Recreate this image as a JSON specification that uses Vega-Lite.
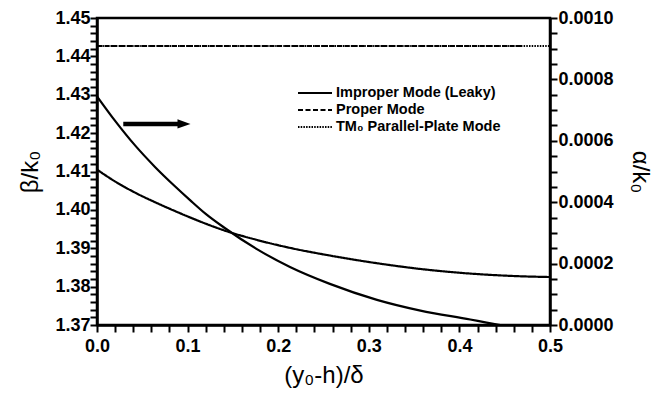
{
  "$schema": "https://vega.github.io/schema/vega-lite/v6.json",
  "width": 453,
  "height": 307,
  "autosize": "none",
  "padding": {"left": 97, "top": 18, "right": 108, "bottom": 72},
  "background": "white",
  "config": {
    "view": {"stroke": "black", "strokeWidth": 2.5},
    "axis": {
      "labelFont": "Liberation Sans", "labelFontWeight": "bold", "labelFontSize": 18, "labelColor": "black",
      "titleFont": "Liberation Sans", "titleFontWeight": "normal", "titleFontSize": 24, "titleColor": "black",
      "domainColor": "black", "domainWidth": 2.5,
      "labelOverlap": false, "labelFlush": false
    },
    "legend": {
      "labelFont": "Liberation Sans", "labelFontWeight": "bold", "labelFontSize": 14.5, "labelColor": "black", "labelLimit": 0
    }
  },
  "datasets": {
    "betaCurve": [
      {"x": 0, "beta": 1.4105, "mode": "Improper Mode (Leaky)"},
      {"x": 0.02, "beta": 1.4074, "mode": "Improper Mode (Leaky)"},
      {"x": 0.042, "beta": 1.4045, "mode": "Improper Mode (Leaky)"},
      {"x": 0.064, "beta": 1.402, "mode": "Improper Mode (Leaky)"},
      {"x": 0.086, "beta": 1.3997, "mode": "Improper Mode (Leaky)"},
      {"x": 0.103, "beta": 1.398, "mode": "Improper Mode (Leaky)"},
      {"x": 0.12, "beta": 1.3964, "mode": "Improper Mode (Leaky)"},
      {"x": 0.141, "beta": 1.3946, "mode": "Improper Mode (Leaky)"},
      {"x": 0.176, "beta": 1.3922, "mode": "Improper Mode (Leaky)"},
      {"x": 0.213, "beta": 1.3901, "mode": "Improper Mode (Leaky)"},
      {"x": 0.257, "beta": 1.3881, "mode": "Improper Mode (Leaky)"},
      {"x": 0.309, "beta": 1.3861, "mode": "Improper Mode (Leaky)"},
      {"x": 0.357, "beta": 1.3846, "mode": "Improper Mode (Leaky)"},
      {"x": 0.412, "beta": 1.3834, "mode": "Improper Mode (Leaky)"},
      {"x": 0.467, "beta": 1.3827, "mode": "Improper Mode (Leaky)"},
      {"x": 0.5, "beta": 1.3825, "mode": "Improper Mode (Leaky)"}
    ],
    "flatLines": [
      {"x": 0, "beta": 1.4427, "mode": "TM₀ Parallel-Plate Mode"},
      {"x": 0.5, "beta": 1.4427, "mode": "TM₀ Parallel-Plate Mode"},
      {"x": 0, "beta": 1.4427, "mode": "Proper Mode"},
      {"x": 0.47, "beta": 1.4427, "mode": "Proper Mode"}
    ],
    "arrow": [
      {"x": 0.029, "x2": 0.09, "beta": 1.4224, "head": 0.096}
    ],
    "alphaCurve": [
      {"x": 0, "alpha": 0.000745},
      {"x": 0.02, "alpha": 0.000665},
      {"x": 0.042, "alpha": 0.000585},
      {"x": 0.064, "alpha": 0.000515},
      {"x": 0.086, "alpha": 0.000452},
      {"x": 0.103, "alpha": 0.000406},
      {"x": 0.12, "alpha": 0.000362},
      {"x": 0.141, "alpha": 0.000316},
      {"x": 0.176, "alpha": 0.000248},
      {"x": 0.213, "alpha": 0.000189},
      {"x": 0.257, "alpha": 0.000134},
      {"x": 0.309, "alpha": 0.000082},
      {"x": 0.357, "alpha": 0.000047},
      {"x": 0.412, "alpha": 0.000018},
      {"x": 0.43, "alpha": 0.000008},
      {"x": 0.445, "alpha": 0.0}
    ]
  },
  "encoding": {
    "x": {
      "field": "x", "type": "quantitative",
      "scale": {"domain": [0, 0.5], "nice": false, "zero": false},
      "axis": {
        "title": "(y₀-h)/δ",
        "zindex": 2,
        "grid": false,
        "ticks": true, "tickColor": "black", "tickOpacity": 1, "tickWidth": 2, "tickSize": 7,
        "tickCount": 25,
        "labelExpr": "abs(datum.value*10 - round(datum.value*10)) < 0.01 ? format(datum.value, '.1f') : ''",
        "labelPadding": 5,
        "titlePadding": 8,
        "encode": {"ticks": {"update": {"y2": {"signal": "abs(datum.value*10 - round(datum.value*10)) < 0.01 ? -10 : -7"}}}}
      }
    }
  },
  "layer": [
    {
      "encoding": {
        "y": {
          "field": "beta", "type": "quantitative",
          "scale": {"domain": [1.37, 1.45], "nice": false, "zero": false},
          "axis": {
            "title": "β/k₀",
            "zindex": 2,
            "grid": false,
            "ticks": true, "tickColor": "black", "tickOpacity": 1, "tickWidth": 2, "tickSize": 7,
            "tickCount": 40,
            "labelExpr": "abs(datum.value*100 - round(datum.value*100)) < 0.01 ? format(datum.value, '.2f') : ''",
            "labelPadding": 0,
            "titlePadding": 12,
            "encode": {"ticks": {"update": {"x2": {"value": 7}}}}
          }
        }
      },
      "layer": [
        {
          "data": {"name": "betaCurve"},
          "mark": {"type": "line", "color": "black", "strokeWidth": 2.2, "interpolate": "monotone"},
          "encoding": {
            "strokeDash": {
              "field": "mode", "type": "nominal",
              "scale": {"domain": ["Improper Mode (Leaky)", "Proper Mode", "TM₀ Parallel-Plate Mode"], "range": [[1, 0], [5, 2.5], [1.5, 1.2]]},
              "legend": {
                "title": null, "orient": "none", "legendX": 208, "legendY": 65,
                "symbolType": "M-2,0H2", "symbolSize": 289, "symbolStrokeWidth": 2.2, "symbolStrokeColor": "black",
                "labelOffset": 11, "rowPadding": 0, "padding": 0
              }
            }
          }
        },
        {
          "data": {"name": "flatLines"},
          "mark": {"type": "line", "color": "black", "strokeWidth": 2.2},
          "encoding": {
            "strokeDash": {
              "field": "mode", "type": "nominal",
              "scale": {"domain": ["Improper Mode (Leaky)", "Proper Mode", "TM₀ Parallel-Plate Mode"], "range": [[1, 0], [5, 2.5], [1.5, 1.2]]},
              "legend": {
                "title": null, "orient": "none", "legendX": 208, "legendY": 65,
                "symbolType": "M-2,0H2", "symbolSize": 289, "symbolStrokeWidth": 2.2, "symbolStrokeColor": "black",
                "labelOffset": 11, "rowPadding": 0, "padding": 0
              }
            }
          }
        },
        {
          "data": {"name": "arrow"},
          "mark": {"type": "rule", "color": "black", "strokeWidth": 4.5},
          "encoding": {"x2": {"field": "x2"}}
        },
        {
          "data": {"name": "arrow"},
          "mark": {"type": "point", "shape": "M-1,-0.72L1,0L-1,0.72Z", "filled": true, "color": "black", "opacity": 1, "size": 169},
          "encoding": {"x": {"field": "head", "type": "quantitative"}}
        }
      ]
    },
    {
      "data": {"name": "alphaCurve"},
      "mark": {"type": "line", "color": "black", "strokeWidth": 2.2, "interpolate": "monotone"},
      "encoding": {
        "y": {
          "field": "alpha", "type": "quantitative",
          "scale": {"domain": [0, 0.001], "nice": false, "zero": false},
          "axis": {
            "orient": "right",
            "title": "α/k₀",
            "zindex": 2,
            "grid": false,
            "ticks": true, "tickColor": "black", "tickOpacity": 1, "tickWidth": 2, "tickSize": 7,
            "tickCount": 20,
            "labelExpr": "abs(datum.value*5000 - round(datum.value*5000)) < 0.01 ? format(datum.value, '.4f') : ''",
            "labelPadding": 1,
            "titlePadding": 14,
            "encode": {"ticks": {"update": {"x2": {"value": -7}}}}
          }
        }
      }
    }
  ],
  "resolve": {"scale": {"y": "independent"}, "axis": {"y": "independent"}}
}
